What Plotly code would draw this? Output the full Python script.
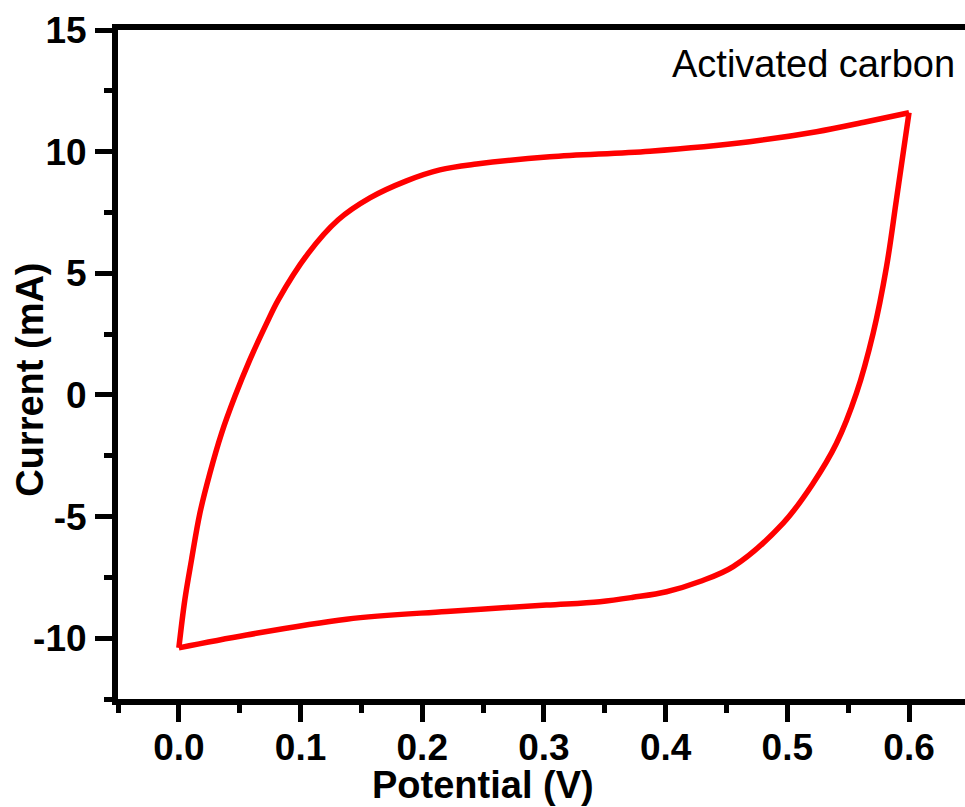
import plotly.graph_objects as go

# Forward (anodic) sweep: potential (V) and current (mA)
potential_fwd = [0.0, 0.0049, 0.0104, 0.0173, 0.0255, 0.0351, 0.046, 0.0583, 0.0721, 0.0816,
                 0.106, 0.131, 0.157, 0.1871, 0.2145, 0.2446, 0.3048, 0.387, 0.469, 0.524,
                 0.565, 0.6]
current_fwd = [-10.4, -8.43, -6.78, -4.86, -3.22, -1.58, -0.07, 1.44, 2.94, 3.9,
               5.8, 7.2, 8.1, 8.8, 9.25, 9.49, 9.79, 10.02, 10.41, 10.82,
               11.23, 11.6]

# Reverse (cathodic) sweep
potential_rev = [0.6, 0.5896, 0.5815, 0.5705, 0.5568, 0.5404, 0.5212, 0.4966, 0.4555,
                 0.4281, 0.4007, 0.3733, 0.346, 0.302, 0.22, 0.1378, 0.0556, 0.0]
current_rev = [11.6, 8.01, 5.27, 2.53, 0.07, -1.99, -3.63, -5.27, -7.06,
               -7.67, -8.09, -8.32, -8.5, -8.64, -8.9, -9.22, -9.87, -10.4]

x_ticks = [0.0, 0.1, 0.2, 0.3, 0.4, 0.5, 0.6]
x_ticktext = ["0.0", "0.1", "0.2", "0.3", "0.4", "0.5", "0.6"]
x_minor = [-0.05, 0.05, 0.15, 0.25, 0.35, 0.45, 0.55]
y_ticks = [-10, -5, 0, 5, 10, 15]
y_ticktext = ["-10", "-5", "0", "5", "10", "15"]
y_minor = [-12.5, -7.5, -2.5, 2.5, 7.5, 12.5]

FONT = "Liberation Sans, Arial, sans-serif"
RED = "#ff0000"

fig = go.Figure()
for xs, ys in [(potential_fwd, current_fwd), (potential_rev, current_rev)]:
    fig.add_trace(go.Scatter(
        x=xs, y=ys, mode="lines",
        line=dict(color=RED, width=5.5, shape="spline", smoothing=1.0),
        showlegend=False, hoverinfo="skip",
    ))

axis_common = dict(
    showline=True, linewidth=6, linecolor="black",
    ticks="outside", ticklen=17, tickwidth=5, tickcolor="black",
    showgrid=False, zeroline=False,
    tickfont=dict(family=FONT, size=37, color="black", weight="bold"),
)

fig.update_xaxes(
    range=[-0.05, 0.646], tickvals=x_ticks, ticktext=x_ticktext, mirror=True,
    minor=dict(ticks="outside", ticklen=8, tickwidth=5, tickcolor="black", tickvals=x_minor),
    ticklabelstandoff=-6,
    **axis_common,
)
fig.update_yaxes(
    range=[-12.5, 15], tickvals=y_ticks, ticktext=y_ticktext, mirror=False,
    minor=dict(ticks="outside", ticklen=8, tickwidth=5, tickcolor="black", tickvals=y_minor),
    ticklabelstandoff=1,
    **axis_common,
)

fig.update_layout(
    width=965, height=807,
    margin=dict(l=118, r=0, t=30, b=108),
    paper_bgcolor="white", plot_bgcolor="white",
    annotations=[
        dict(text="Current (mA)", xref="paper", yref="paper", x=-0.104, y=0.477,
             xanchor="center", yanchor="middle", textangle=-90, showarrow=False,
             font=dict(family=FONT, size=38, color="black", weight="bold")),
        dict(text="Potential (V)", xref="paper", yref="paper", x=(483 - 118) / 847, y=-0.128,
             xanchor="center", yanchor="middle", showarrow=False,
             font=dict(family=FONT, size=38, color="black", weight="bold")),
        dict(text="Activated carbon", xref="paper", yref="paper", x=0.991, y=0.949,
             xanchor="right", yanchor="middle", showarrow=False,
             font=dict(family=FONT, size=38, color="black")),
    ],
)

fig.write_html("out.html", config={"displayModeBar": False},
               post_script="document.body.style.margin='0';")
